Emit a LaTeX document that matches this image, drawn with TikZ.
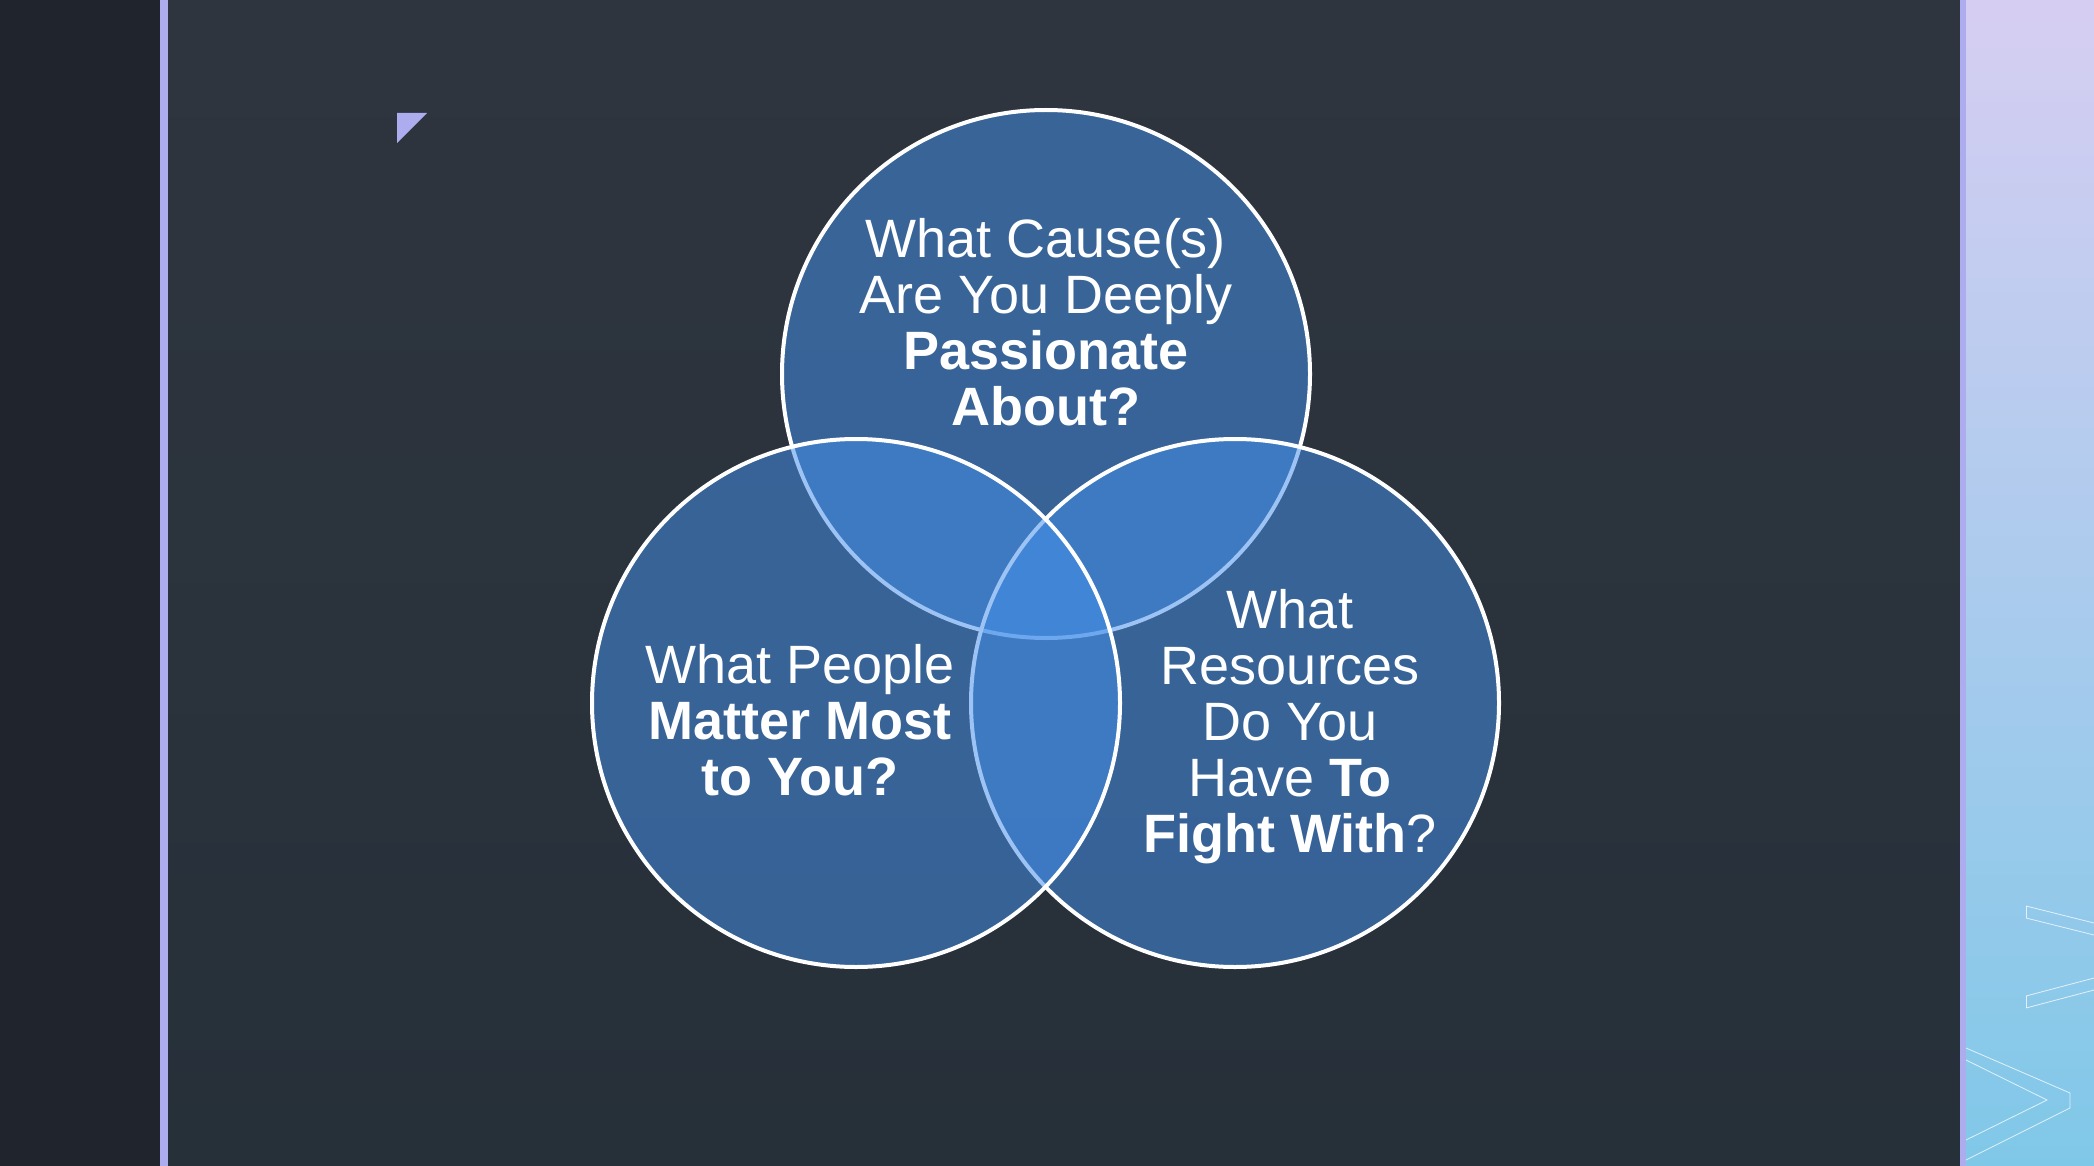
\documentclass[tikz,border=0pt]{standalone}
\usepackage{fontspec}
\setmainfont{Liberation Sans}
\definecolor{bgtop}{RGB}{47,53,63}
\definecolor{bgbot}{RGB}{38,48,57}
\definecolor{leftstrip}{RGB}{32,37,45}
\definecolor{lav}{RGB}{172,172,238}
\definecolor{rtop}{RGB}{214,206,242}
\definecolor{rmid}{RGB}{176,200,240}
\definecolor{rbot}{RGB}{128,200,232}
\definecolor{vblue}{RGB}{68,143,233}
\tikzset{
  vcirc/.style={circle, inner sep=0pt, outer sep=0pt, minimum size=264pt,
    fill=vblue, fill opacity=0.53, draw=white, draw opacity=1, line width=2pt},
  lbl/.style={text=white, align=center, inner sep=0pt,
    font=\fontsize{27}{28}\selectfont},
  deco/.style={draw=white, draw opacity=0.75, line width=0.4pt}
}
\begin{document}
\begin{tikzpicture}[x=0.5pt,y=-0.5pt]
\useasboundingbox (0,0) rectangle (2094,1166);
% backgrounds
\shade[top color=bgtop, bottom color=bgbot] (160,0) rectangle (1965,1166);
\fill[leftstrip] (0,0) rectangle (160,1166);
\shade[top color=rtop, middle color=rmid, bottom color=rbot] (1965,0) rectangle (2094,1166);
\fill[lav] (160,0) rectangle (168,1166);
\fill[lav] (1960,0) rectangle (1966,1166);
% decorative chevrons
\draw[deco] (2026,906) -- (2094,923) (2026,918) -- (2094,935);
\draw[deco] (2026,1008) -- (2094,990) (2026,996) -- (2094,978);
\draw[deco] (2026,906) -- (2026,918) (2026,996) -- (2026,1008);
\draw[deco] (1966,1048) -- (2070,1093) -- (2070,1108) -- (1966,1160);
\draw[deco] (1966,1060) -- (2047,1100) -- (1966,1140);
% small triangle
\fill[lav] (397,113) -- (427,113) -- (397,143) -- cycle;
% venn circles
\node[vcirc] (top) at (1046,374) {};
\node[vcirc] (right) at (1235,703) {};
\node[vcirc] (left) at (856,703) {};
% labels (base anchor = baseline of last line)
\node[lbl, anchor=base] (ttop) at (1046,425)
  {What Cause(s)\\Are You Deeply\\\textbf{Passionate}\\\textbf{About?}};
\node[lbl, anchor=base] (tleft) at (800,795)
  {What People\\\textbf{Matter Most}\\\textbf{to You?}};
\node[lbl, anchor=base] (tright) at (1290,852)
  {What\\Resources\\Do You\\Have \textbf{To}\\\textbf{Fight With}?};
\end{tikzpicture}
\end{document}
